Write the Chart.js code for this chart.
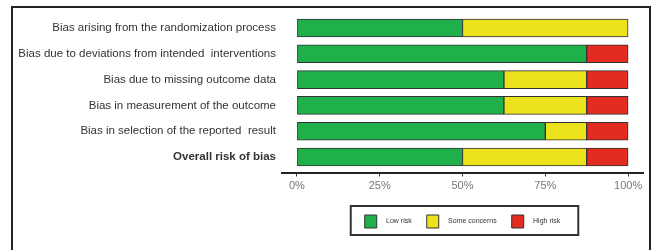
<!DOCTYPE html>
<html>
<head>
<meta charset="utf-8">
<script src="https://cdn.jsdelivr.net/npm/chart.js@4"></script>
<style>
  html, body { margin: 0; padding: 0; background: #fff; }
  #wrap { position: relative; width: 652px; height: 250px; overflow: hidden; }
  #frame { position: absolute; left: 11px; top: 6px; width: 640px; height: 270px; border: 2px solid #222; box-sizing: border-box; }
  canvas { position: absolute; left: 0; top: 0; }
</style>
</head>
<body>
<div id="wrap"><div id="frame"></div><canvas id="c" width="652" height="250"></canvas></div>
<script>
// risk-of-bias summary (8 studies) — % of studies per judgement
const domains = [
  "Bias arising from the randomization process",
  "Bias due to deviations from intended  interventions",
  "Bias due to missing outcome data",
  "Bias in measurement of the outcome",
  "Bias in selection of the reported  result",
  "Overall risk of bias",
];
const lowRisk = [50, 87.5, 62.5, 62.5, 75, 50];
const someConcerns = [50, 0, 25, 25, 12.5, 37.5];
const highRisk = [0, 12.5, 12.5, 12.5, 12.5, 12.5];
const seriesNames = ["Low risk", "Some concerns", "High risk"];
const seriesColors = ["#1fb04b", "#ebe21c", "#e32b20"];
const xTicks = [0, 25, 50, 75, 100];

const FONT = '"Liberation Sans", Arial, Helvetica, sans-serif';
const rowPos = domains.map((d, i) => i + 1);
const pts = (vals) => vals.map((v, i) => ({ x: v, y: rowPos[i] }));

// ggplot-style box round the legend
const legendFrame = {
  id: "legendFrame",
  afterDraw(chart) {
    const hb = chart.legend && chart.legend.legendHitBoxes;
    if (!hb || !hb.length) return;
    const l = Math.min(...hb.map(b => b.left)) - 14;
    const r = Math.max(...hb.map(b => b.left + b.width)) + 18;
    const t = Math.min(...hb.map(b => b.top)) - 9;
    const b = Math.max(...hb.map(b => b.top + b.height)) + 7;
    const ctx = chart.ctx;
    ctx.save();
    ctx.strokeStyle = "#333"; ctx.lineWidth = 2;
    ctx.strokeRect(l, t, r - l, b - t);
    ctx.restore();
  }
};

new Chart(document.getElementById("c"), {
  type: "bar",
  data: {
    datasets: [lowRisk, someConcerns, highRisk].map((vals, k) => ({
      label: seriesNames[k], data: pts(vals),
      backgroundColor: seriesColors[k], borderColor: "#333", borderWidth: 1, borderSkipped: false,
      barThickness: 18,
    })),
  },
  options: {
    indexAxis: "y",
    responsive: false,
    animation: false,
    devicePixelRatio: 1,
    layout: { padding: { left: 12, right: 9, top: 12.5, bottom: 12 } },
    plugins: {
      tooltip: { enabled: false },
      legend: {
        position: "bottom", fullSize: false,
        labels: {
          boxWidth: 12, boxHeight: 13, padding: 15, color: "#333", font: { family: FONT, size: 7 },
          generateLabels: (chart) => Chart.defaults.plugins.legend.labels.generateLabels(chart)
            .map(it => ({ ...it, text: "   " + it.text })),
        },
      },
    },
    scales: {
      x: {
        type: "linear", min: -4.5, max: 104.5, stacked: true,
        afterBuildTicks: (s) => { s.ticks = xTicks.map(v => ({ value: v })); },
        afterFit: (s) => { s.height = 27.5; },
        grid: { display: true, drawOnChartArea: false, drawTicks: true, tickLength: 4, color: "#333", tickColor: "#333" },
        border: { display: true, color: "#222", width: 2 },
        ticks: { color: "#777", padding: 3, font: { family: FONT, size: 11 }, callback: (v) => v + "%" },
      },
      y: {
        type: "linear", min: 0.4, max: 6.6, reverse: true, stacked: true, offset: false,
        afterBuildTicks: (s) => { s.ticks = rowPos.map(v => ({ value: v })); },
        afterFit: (s) => { s.width = 270; s.paddingTop = 0; s.paddingBottom = 0; },
        grid: { display: false, drawTicks: false },
        border: { display: false },
        ticks: {
          padding: 6, color: "#333",
          font: (ctx) => ({ family: FONT, size: 11.5, weight: ctx.index === domains.length - 1 ? "bold" : "normal" }),
          callback: (v) => domains[v - 1],
        },
      },
    },
  },
  plugins: [legendFrame],
});
</script>
</body>
</html>
